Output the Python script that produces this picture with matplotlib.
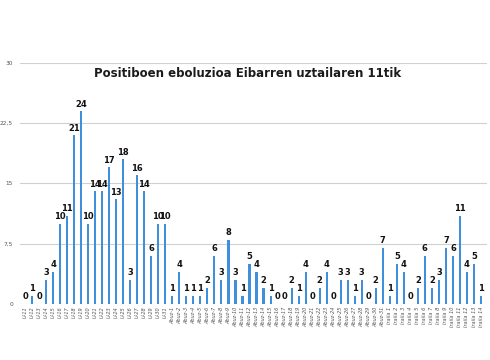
import matplotlib
matplotlib.use("Agg")
import matplotlib.pyplot as plt
import numpy as np

# Data
uztaila_days = list(range(11, 32))
uztaila_values = [0, 1, 0, 3, 4, 10, 11, 21, 24, 10, 14, 14, 17, 13, 18, 3, 16, 14, 6, 10, 10]

abuztua_days = list(range(1, 32))
abuztua_values = [1, 4, 1, 1, 1, 2, 6, 3, 8, 3, 1, 5, 4, 2, 1, 0, 0, 2, 1, 4,
                  0, 2, 4, 0, 3, 3, 1, 3, 0, 2, 7]

iraila_days = list(range(1, 15))
iraila_values = [1, 5, 4, 0, 2, 6, 2, 3, 7, 6, 11, 4, 5, 1]

labels = ([f"U-{d}" for d in uztaila_days]
          + [f"Abuz-{d}" for d in abuztua_days]
          + [f"Iraila {d}" for d in iraila_days])
values = uztaila_values + abuztua_values + iraila_values

y_ticks = [0, 7.5, 15, 22.5, 30]
y_tick_labels = ["0", "7,5", "15", "22,5", "30"]

BAR_COLOR = "#3f8fdc"

fig = plt.figure(figsize=(4.9, 3.6), dpi=100)
ax = fig.add_axes([0.041, 0.156, 0.953, 0.669])

x = np.arange(len(values))
ax.bar(x, values, width=0.3, color=BAR_COLOR, zorder=3)

for xi, v in zip(x, values):
    ax.text(xi, v + 0.3, str(v), ha="center", va="bottom",
            fontsize=6, fontweight="bold", color="#111111", zorder=4)

ax.set_xlim(-0.7, len(values) - 1 + 0.86)
ax.set_ylim(0, 30)
ax.set_yticks(y_ticks)
ax.set_yticklabels(y_tick_labels)
ax.tick_params(axis="y", length=0, labelsize=4.2, labelcolor="#555555", pad=5)
ax.set_xticks(x)
ax.set_xticklabels(labels, rotation=90, fontsize=3.6, color="#555555",
                   fontstyle="italic")
ax.tick_params(axis="x", length=0, pad=2)

ax.grid(axis="y", color="#d0d0d0", linewidth=0.8, zorder=0)
for s in ax.spines.values():
    s.set_visible(False)
ax.axhline(0, color="#999999", linewidth=0.6, zorder=2)

fig.text(0.505, 0.797, "Positiboen eboluzioa Eibarren uztailaren 11tik",
         ha="center", va="center", fontsize=8.5, fontweight="bold", color="#1a1a1a")

fig.savefig("out.png", dpi=100)
